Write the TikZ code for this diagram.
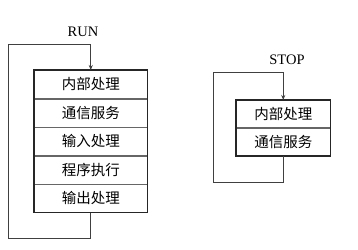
\documentclass[tikz,border=0pt]{standalone}
\usepackage{fontspec}
\setmainfont{Liberation Serif}
\newfontfamily\cjk{Noto Sans CJK SC}
\usetikzlibrary{arrows.meta, positioning}

\begin{document}
\begin{tikzpicture}[
    x=1pt, y=-1pt,
    node distance=0pt,
    row/.style={draw=black!60, line width=0.5pt, minimum width=113pt, minimum height=28pt, inner sep=0pt, font=\cjk\fontsize{14.5}{16}\selectfont},
    frame/.style={draw=black!85, line width=1.3pt},
    line/.style={-{Stealth[length=5pt,width=4pt]}, draw=black!75, line width=0.8pt},
    lbl/.style={font=\fontsize{14.5}{16}\selectfont}
]
\useasboundingbox (0,0) rectangle (358,249);

% RUN
\node[row, anchor=north west] (r1) at (34,70) {内部处理};
\node[row, below=of r1] (r2) {通信服务};
\node[row, below=of r2] (r3) {输入处理};
\node[row, below=of r3] (r4) {程序执行};
\node[row, below=of r4] (r5) {输出处理};
\draw[frame] (r1.north west) rectangle (r5.south east);

\node[lbl] (run) at (83,32) {RUN};
\coordinate (runbl) at (8,238);
\coordinate (runtl) at (8,44);
\draw[line] (r5.south) |- (runbl) -- (runtl) -| (r1.north);

% STOP
\node[row, anchor=north west, minimum width=94pt, minimum height=27pt] (s1) at (236,100) {内部处理};
\node[row, below=of s1, minimum width=94pt, minimum height=28pt] (s2) {通信服务};
\draw[frame] (s1.north west) rectangle (s2.south east);

\node[lbl] (stop) at (287,60) {STOP};
\coordinate (stopbl) at (213,182);
\coordinate (stoptl) at (213,72);
\draw[line] (s2.south) |- (stopbl) -- (stoptl) -| (s1.north);

\end{tikzpicture}
\end{document}
